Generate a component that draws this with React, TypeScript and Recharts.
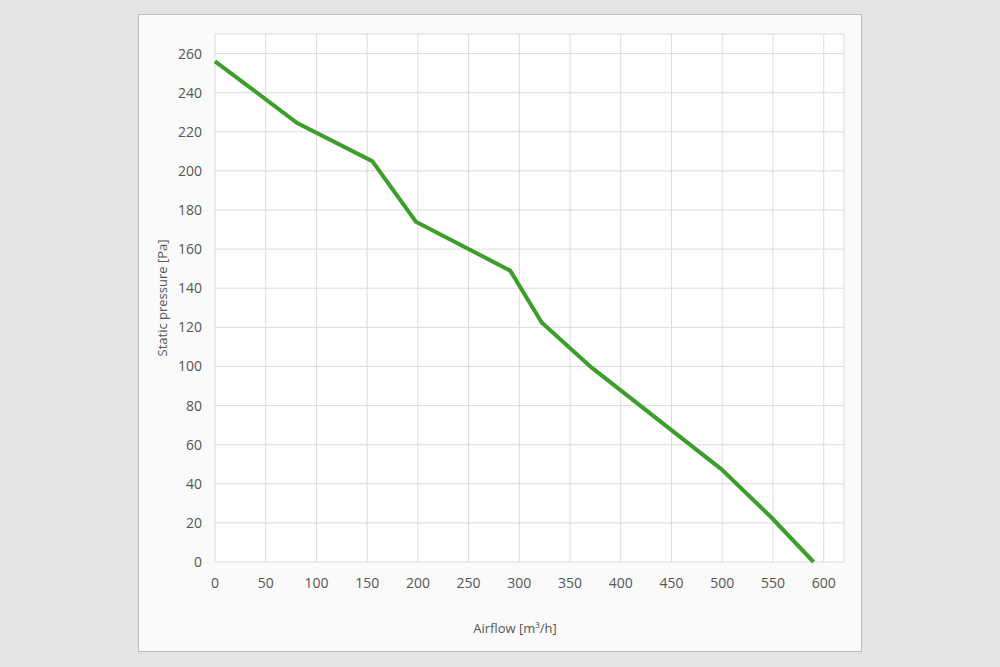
import { LineChart, Line, XAxis, YAxis, CartesianGrid, Label } from 'recharts'

// Fan curve
const airflow = [0, 81, 155, 198, 291, 322, 371, 499, 548, 590]
const pressure = [256, 224.5, 205, 174, 149, 122.5, 99.5, 47.5, 23, 0]

const xTicks = [0, 50, 100, 150, 200, 250, 300, 350, 400, 450, 500, 550, 600]
const yTicks = [0, 20, 40, 60, 80, 100, 120, 140, 160, 180, 200, 220, 240, 260]

const data = airflow.map((a, i) => ({ airflow: a, pressure: pressure[i] }))

const FONT = '"Open Sans", "Noto Sans", sans-serif'
const tickStyle = { fontSize: 14, fill: '#555', fontFamily: FONT }

function YTitle(props: any) {
  const vb = props.viewBox
  const cx = 23
  const cy = vb.y + vb.height / 2
  return (
    <text
      x={cx}
      y={cy}
      transform={`rotate(-90, ${cx}, ${cy})`}
      textAnchor="middle"
      dominantBaseline="central"
      fontSize={13}
      fill="#555"
      fontFamily={FONT}
    >
      Static pressure [Pa]
    </text>
  )
}

function XTitle(props: any) {
  const vb = props.viewBox
  return (
    <text
      x={515 - 139}
      y={vb.y + vb.height - 23}
      textAnchor="middle"
      dominantBaseline="central"
      fontSize={13}
      fill="#555"
      fontFamily={FONT}
    >
      Airflow [m³/h]
    </text>
  )
}

export default function App() {
  return (
    <div
      style={{
        position: 'fixed',
        left: 0,
        top: 0,
        width: 1000,
        height: 667,
        background: '#e4e4e4',
      }}
    >
      <div
        style={{
          position: 'absolute',
          left: 138,
          top: 14,
          width: 722,
          height: 636,
          border: '1px solid #bcbcbc',
          background: '#fafafa',
        }}
      >
        <LineChart
          width={722}
          height={636}
          data={data}
          margin={{ top: 19, right: 17, left: 0, bottom: 0 }}
        >
          <CartesianGrid stroke="#dcdcdc" fill="#ffffff" />
          <XAxis
            dataKey="airflow"
            type="number"
            domain={[0, 620]}
            ticks={xTicks}
            axisLine={false}
            tickLine={false}
            tick={tickStyle}
            tickMargin={10}
            height={89}
          >
            <Label content={XTitle} />
          </XAxis>
          <YAxis
            type="number"
            domain={[0, 270]}
            ticks={yTicks}
            axisLine={false}
            tickLine={false}
            tick={tickStyle}
            tickMargin={7}
            width={76}
          >
            <Label content={YTitle} />
          </YAxis>
          <Line
            type="linear"
            dataKey="pressure"
            stroke="#3c9e2b"
            strokeWidth={4}
            dot={false}
            isAnimationActive={false}
          />
        </LineChart>
      </div>
    </div>
  )
}
